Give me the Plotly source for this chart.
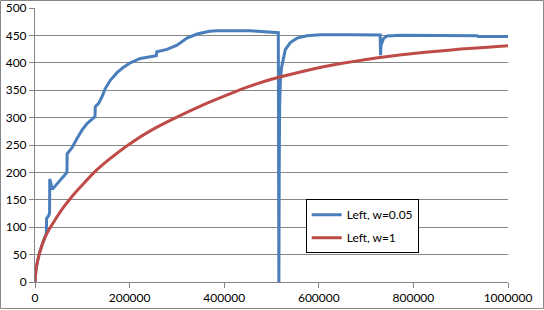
import plotly.graph_objects as go

# Series "Left, w=0.05"
blue_x = [0, 2000, 5000, 10000, 20000, 24000, 24500, 28800, 30800, 31200, 36600,
          67500, 68000, 78200, 88800, 99400, 110000, 123900, 126800, 127500, 134500,
          141600, 148600, 159200, 173400, 187300, 201500, 222600, 254300, 256400,
          257500, 279100, 300200, 321400, 342500, 369100, 384800, 419900, 455200,
          514400, 515000, 515600, 516300, 517200, 518600, 521000, 524300, 529200,
          539800, 554000, 575000, 603000, 673000, 729800, 730500, 731500, 737000,
          744200, 772600, 935000, 937000, 1000000]
blue_y = [0, 22, 37, 55, 80, 88, 116, 121, 126, 188, 169,
          200, 234, 245, 262, 277, 289, 300, 302, 320, 326,
          338, 353, 368, 382, 392, 400, 408, 412, 413,
          420, 424.5, 432, 445, 452.5, 457.5, 458.5, 459, 458.5,
          455, 0, 0, 200, 320, 365, 390, 402, 424,
          437, 445, 449.5, 451, 451, 450.6, 414, 432, 444.6,
          449, 450.2, 449.5, 448, 448]

# Series "Left, w=1"
red_x = [0, 500, 2000, 5000, 10000, 20000, 30000, 40000, 60000, 80000, 100000,
         130000, 160000, 200000, 250000, 300000, 350000, 400000, 450000, 500000,
         550000, 600000, 650000, 700000, 750000, 800000, 850000, 900000, 950000, 1000000]
red_y = [0, 8, 21, 36, 54, 79, 96, 110, 136, 158, 177,
         204, 226, 252, 279, 301, 321, 339, 356, 370,
         381, 391, 399, 406, 412, 417, 421, 425, 428, 431]

x_ticks = [0, 200000, 400000, 600000, 800000, 1000000]
y_ticks = list(range(0, 501, 50))

FONT = "Lato"
GRID = "#868686"

fig = go.Figure()
fig.add_trace(go.Scatter(x=blue_x, y=blue_y, mode="lines", name="Left, w=0.05",
                         line=dict(color="#4A7EBB", width=3), legendgroup="a"))
fig.add_trace(go.Scatter(x=red_x, y=red_y, mode="lines", name="Left, w=1",
                         line=dict(color="#BE4B48", width=3, shape="spline", smoothing=0.6),
                         legendgroup="b"))

L, R, T, B = 35, 508, 8, 282
W, H = 544, 310
pw, ph = R - L, B - T

fig.update_layout(
    width=W, height=H,
    margin=dict(l=L, r=W - R, t=T, b=H - B, pad=0, autoexpand=False),
    paper_bgcolor="white", plot_bgcolor="white",
    font=dict(family=FONT, size=12, color="black"),
    showlegend=True,
    legend=dict(x=(305.7 - L) / pw, y=(B - 199.3) / ph, xanchor="left", yanchor="top",
                bordercolor="black", borderwidth=1, bgcolor="white",
                font=dict(family=FONT, size=12, color="black"),
                traceorder="grouped", tracegroupgap=4),
    xaxis=dict(range=[0, 1000000], tickvals=x_ticks, tickformat="d", automargin=False,
               showgrid=False, zeroline=False, showline=True, linecolor=GRID, linewidth=1,
               ticks="outside", ticklen=5, tickcolor=GRID, fixedrange=True),
    yaxis=dict(range=[0, 500], tickvals=y_ticks, showgrid=True, gridcolor=GRID, gridwidth=1,
               automargin=False,
               zeroline=False, showline=True, linecolor=GRID, linewidth=1,
               ticks="outside", ticklen=5, tickcolor=GRID, fixedrange=True),
    shapes=[dict(type="rect", xref="paper", yref="paper",
                 x0=(0.5 - L) / pw, x1=(543.5 - L) / pw,
                 y0=(B - 308.5) / ph, y1=(B - 0.5) / ph,
                 line=dict(color=GRID, width=1), fillcolor="rgba(0,0,0,0)", layer="below")],
)

fig.write_html("out.html")
